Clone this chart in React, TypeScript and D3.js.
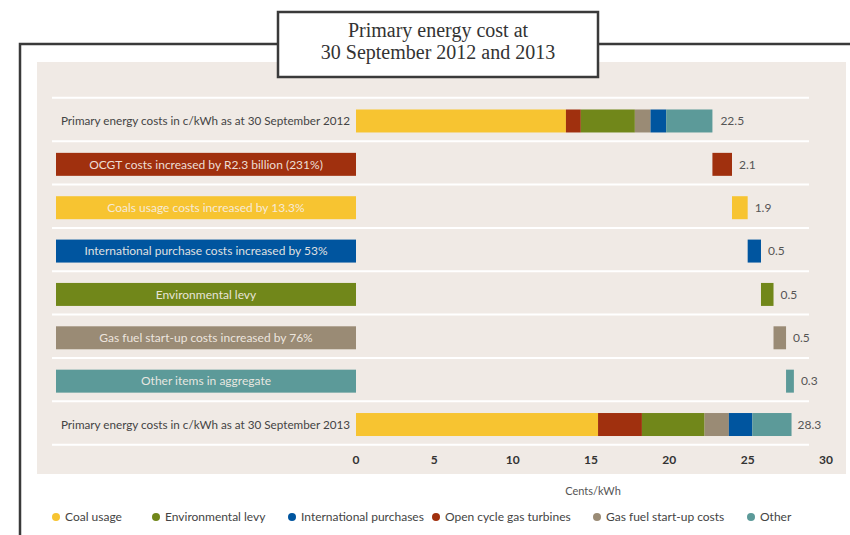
import React from "react";
import * as d3 from "d3";

const segmentNames = ["Coal usage", "Open cycle gas turbines", "Environmental levy", "Gas fuel start-up costs", "International purchases", "Other"];
const segmentColors = ["#F7C431", "#A0300E", "#71871A", "#9A8B75", "#00559F", "#5C9A99"];
const values2012 = [13.4, 0.95, 3.45, 1.0, 1.0, 2.95];
const values2013 = [15.45, 2.8, 4.0, 1.55, 1.5, 2.5];
const totalLabel2012 = "22.5";
const totalLabel2013 = "28.3";
const rowLabel2012 = "Primary energy costs in c/kWh as at 30 September 2012";
const rowLabel2013 = "Primary energy costs in c/kWh as at 30 September 2013";

const stepLabels = [
  "OCGT costs increased by R2.3 billion (231%)",
  "Coals usage costs increased by 13.3%",
  "International purchase costs increased by 53%",
  "Environmental levy",
  "Gas fuel start-up costs increased by 76%",
  "Other items in aggregate",
];
const stepDeltas = [1.25, 1.0, 0.85, 0.8, 0.8, 0.5];
const stepValueLabels = ["2.1", "1.9", "0.5", "0.5", "0.5", "0.3"];
const stepColors = ["#A0300E", "#F7C431", "#00559F", "#71871A", "#9A8B75", "#5C9A99"];

const legendNames = ["Coal usage", "Environmental levy", "International purchases", "Open cycle gas turbines", "Gas fuel start-up costs", "Other"];
const legendColors = ["#F7C431", "#71871A", "#00559F", "#A0300E", "#9A8B75", "#5C9A99"];
const legendX = [56, 156, 292, 436, 597, 751];

const axisTicks = [0, 5, 10, 15, 20, 25, 30];
const titleLines = ["Primary energy cost at", "30 September 2012 and 2013"];

const FONT = "Lato, 'Open Sans', sans-serif";

export default function App() {
  const x = d3.scaleLinear().domain([0, 30]).range([356, 826]);
  const rows = ["r2012", ...stepLabels.map((_, i) => "s" + i), "r2013"];
  const y = d3.scaleBand<string>().domain(rows).range([99.3, 446.2]).paddingInner(0.47).paddingOuter(0.235);
  const bw = y.bandwidth();
  const step = y.step();

  const stack = (vals: number[]) => {
    let acc = 0;
    return vals.map((v) => {
      const s = acc;
      acc += v;
      return [s, acc];
    });
  };
  const seg2012 = stack(values2012);
  const seg2013 = stack(values2013);
  const total2012 = d3.sum(values2012);
  const total2013 = d3.sum(values2013);

  let cum = total2012;
  const steps = stepDeltas.map((d) => {
    const s = cum;
    cum += d;
    return [s, cum];
  });

  const separators = d3.range(rows.length + 1).map((i) => (y.range()[0] as number) + i * step - 1.5);

  return (
    <svg width={850} height={535} style={{ position: "absolute", left: 0, top: 0, background: "#fff" }}>
      {/* panel */}
      <rect x={37} y={62} width={809} height={412} fill="#F0EAE5" />
      {/* frame */}
      <path d="M20,535 L20,44 L278,44 M598,44 L850,44" fill="none" stroke="#3a3a3a" strokeWidth={2.5} />
      <rect x={278} y={12} width={320} height={65} fill="#fff" stroke="#3a3a3a" strokeWidth={2.5} />
      {titleLines.map((t, i) => (
        <text key={i} x={438} y={37 + i * 22} textAnchor="middle" fontFamily="'Liberation Serif', serif" fontSize={20} fill="#333">
          {t}
        </text>
      ))}

      {/* separators */}
      {separators.map((sy, i) => (
        <line key={i} x1={52} x2={809} y1={sy} y2={sy} stroke="#fff" strokeWidth={2} />
      ))}

      {/* 2012 bar */}
      {seg2012.map(([a, b], i) => (
        <rect key={"a" + i} x={x(a)} y={y("r2012")} width={x(b) - x(a)} height={bw} fill={segmentColors[i]} />
      ))}
      <text x={x(total2012) + 8} y={(y("r2012") as number) + bw / 2} dy="0.35em" fontFamily={FONT} fontSize={12} fill="#555">
        {totalLabel2012}
      </text>
      <text x={350} y={(y("r2012") as number) + bw / 2} dy="0.35em" textAnchor="end" fontFamily={FONT} fontSize={11.7} fill="#444">
        {rowLabel2012}
      </text>

      {/* steps */}
      {stepLabels.map((lab, i) => {
        const yy = y("s" + i) as number;
        const [a, b] = steps[i];
        return (
          <g key={"s" + i}>
            <rect x={56} y={yy} width={300} height={bw} fill={stepColors[i]} />
            <text x={206} y={yy + bw / 2} dy="0.35em" textAnchor="middle" fontFamily={FONT} fontSize={12} fill="#F6EFE8" fillOpacity={0.92}>
              {lab}
            </text>
            <rect x={x(a)} y={yy} width={x(b) - x(a)} height={bw} fill={stepColors[i]} />
            <text x={x(b) + 7} y={yy + bw / 2} dy="0.35em" fontFamily={FONT} fontSize={12} fill="#555">
              {stepValueLabels[i]}
            </text>
          </g>
        );
      })}

      {/* 2013 bar */}
      {seg2013.map(([a, b], i) => (
        <rect key={"b" + i} x={x(a)} y={y("r2013")} width={x(b) - x(a)} height={bw} fill={segmentColors[i]} />
      ))}
      <text x={x(total2013) + 6} y={(y("r2013") as number) + bw / 2} dy="0.35em" fontFamily={FONT} fontSize={12} fill="#555">
        {totalLabel2013}
      </text>
      <text x={350} y={(y("r2013") as number) + bw / 2} dy="0.35em" textAnchor="end" fontFamily={FONT} fontSize={11.7} fill="#444">
        {rowLabel2013}
      </text>

      {/* axis */}
      {axisTicks.map((t) => (
        <text key={t} x={x(t)} y={464} textAnchor="middle" fontFamily={FONT} fontSize={12} fontWeight={700} fill="#333">
          {t}
        </text>
      ))}
      <text x={593} y={495} textAnchor="middle" fontFamily={FONT} fontSize={11} fill="#555">
        Cents/kWh
      </text>

      {/* legend */}
      {legendNames.map((n, i) => (
        <g key={n}>
          <circle cx={legendX[i]} cy={517} r={4} fill={legendColors[i]} />
          <text x={legendX[i] + 9} y={517} dy="0.35em" fontFamily={FONT} fontSize={12} fill="#444">
            {n}
          </text>
        </g>
      ))}
    </svg>
  );
}
